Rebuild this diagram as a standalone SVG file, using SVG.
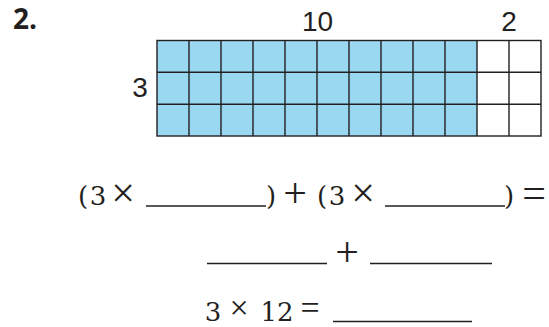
<svg xmlns="http://www.w3.org/2000/svg" width="549" height="327" viewBox="0 0 549 327">
<style>
.lbl{font-family:"Liberation Sans",Arial,sans-serif;font-size:28px;fill:#231f20;text-anchor:middle}
.num{font-family:"Open Sans","Liberation Sans",sans-serif;font-weight:bold;font-size:28px;fill:#231f20}
.eq{font-family:"DejaVu Serif","Liberation Serif",serif;font-size:26px;fill:#231f20;text-anchor:middle}
.op{font-family:"Liberation Serif","Times New Roman",serif;font-size:42px;fill:#231f20;text-anchor:middle}
.op3{font-size:34px}
.blank{stroke:#231f20;stroke-width:1.6}
.cell{stroke:#231f20;stroke-width:1.4}
</style>
<g id="problem-number"><text class="num" x="13" y="28.5">2.</text></g>
<g id="array">
<rect x="157" y="40.5" width="320" height="95.5" fill="#9ad8f1"/>
<rect x="477" y="40.5" width="64" height="95.5" fill="#ffffff"/>
<g class="cell" fill="none">
<rect x="157" y="40.5" width="384" height="95.5"/>
<path d="M189 40.5V136M221 40.5V136M253 40.5V136M285 40.5V136M317 40.5V136M349 40.5V136M381 40.5V136M413 40.5V136M445 40.5V136M477 40.5V136M509 40.5V136M157 72.3H541M157 104.2H541"/>
</g>
</g>
<g id="labels">
<text class="lbl" x="317.5" y="30.7">10</text>
<text class="lbl" x="509" y="30.7">2</text>
<text class="lbl" x="140" y="97.3">3</text>
</g>
<g id="equation-1">
<text class="eq" x="83" y="205">(</text>
<text class="eq" x="98" y="205">3</text>
<text class="op" x="123" y="207">×</text>
<line class="blank" x1="146" y1="206" x2="266" y2="206"/>
<text class="eq" x="271" y="205">)</text>
<text class="op" x="295" y="207">+</text>
<text class="eq" x="322" y="205">(</text>
<text class="eq" x="337" y="205">3</text>
<text class="op" x="363" y="207">×</text>
<line class="blank" x1="385" y1="206" x2="505" y2="206"/>
<text class="eq" x="509" y="205">)</text>
<text class="op" x="534" y="207">=</text>
</g>
<g id="equation-2">
<line class="blank" x1="207" y1="263.5" x2="327" y2="263.5"/>
<text class="op" x="347" y="266">+</text>
<line class="blank" x1="370" y1="263.5" x2="492" y2="263.5"/>
</g>
<g id="equation-3">
<text class="eq" x="213" y="320.5">3</text>
<text class="op op3" x="239" y="318.5">×</text>
<text class="eq" x="277" y="320.5">12</text>
<text class="op op3" x="310" y="318.5">=</text>
<line class="blank" x1="333" y1="321.5" x2="472" y2="321.5"/>
</g>
</svg>
